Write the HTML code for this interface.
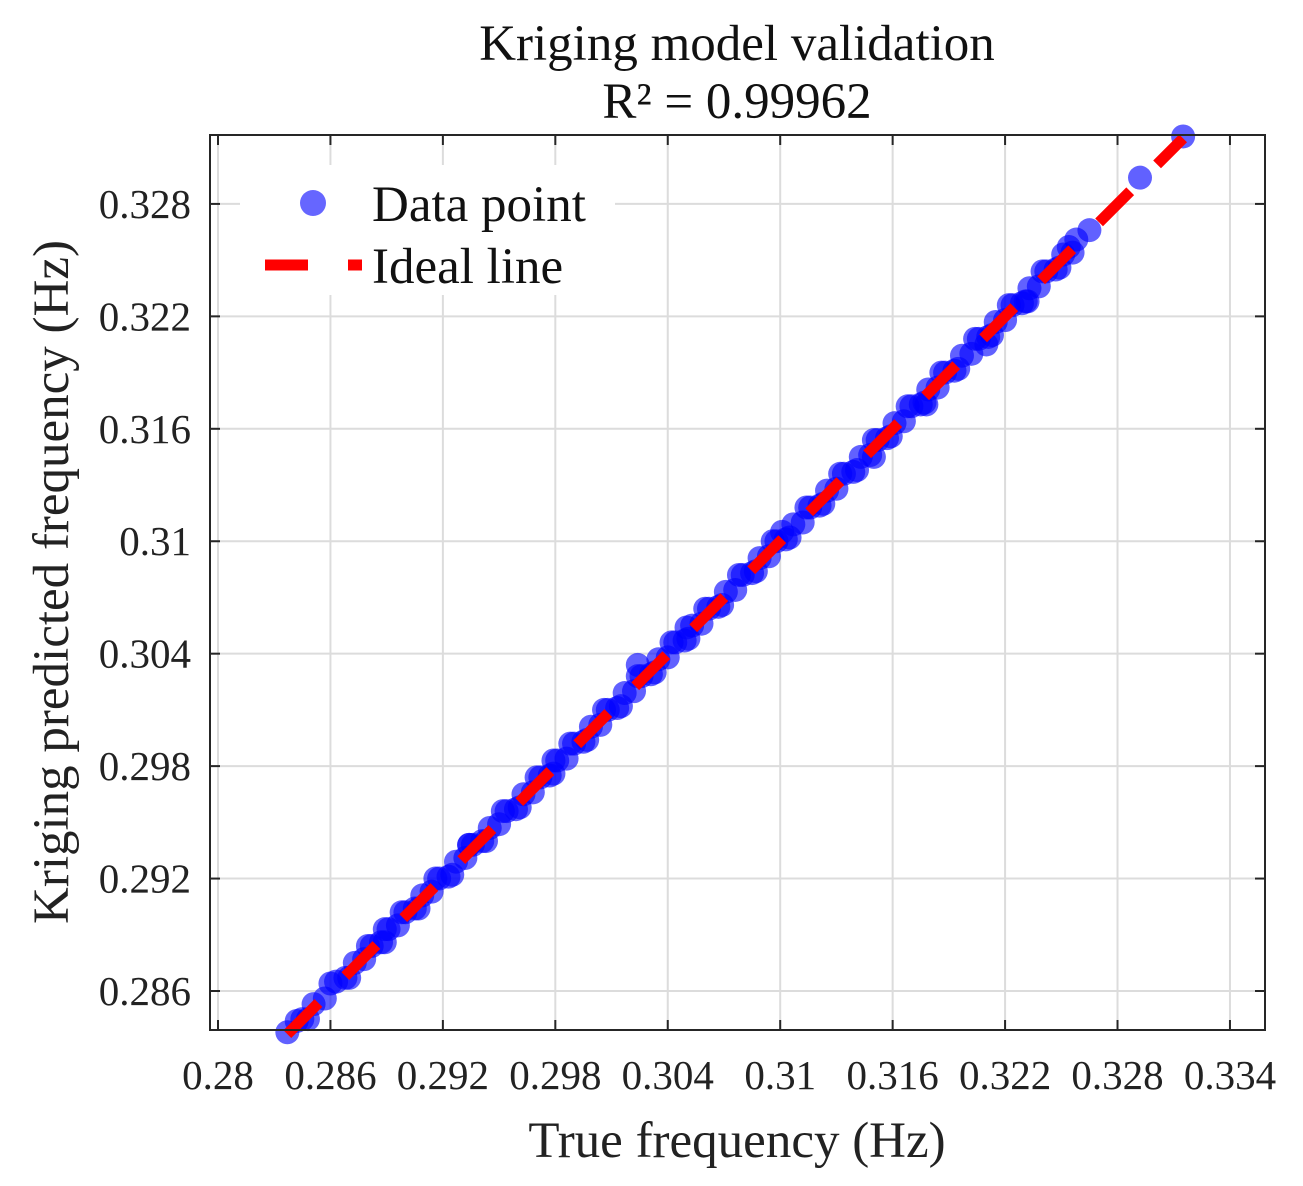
<!DOCTYPE html>
<html><head><meta charset="utf-8"><style>
html,body{margin:0;padding:0;background:#fff;}
svg{display:block;font-family:"Liberation Serif",serif;}
</style></head><body>
<svg id="chart" width="1303" height="1186" viewBox="0 0 1303 1186">
<g id="grid"></g>
<g id="series"></g>
<g id="axes"></g>
<text x="737" y="60" font-size="51" text-anchor="middle" fill="#111">Kriging model validation</text>
<text x="737" y="118" font-size="51" text-anchor="middle" fill="#111">R² = 0.99962</text>
<text x="737" y="1157" font-size="51" text-anchor="middle" fill="#222">True frequency (Hz)</text>
<text transform="translate(68,582) rotate(-90)" font-size="51" text-anchor="middle" fill="#222">Kriging predicted frequency (Hz)</text>
<g>
<rect x="240" y="165" width="375" height="130" fill="#fff"/>
<circle cx="313" cy="203" r="13" fill="#6666ff"/>
<text x="372" y="221" font-size="51" fill="#111">Data point</text>
<line x1="265" y1="265" x2="362" y2="265" stroke="#ff0000" stroke-width="11" stroke-dasharray="43 40"/>
<text x="372" y="283" font-size="51" fill="#111">Ideal line</text>
</g>
</svg>
<script>
const xTicks=[0.28,0.286,0.292,0.298,0.304,0.31,0.316,0.322,0.328,0.334];
const xTickLabels=["0.28","0.286","0.292","0.298","0.304","0.31","0.316","0.322","0.328","0.334"];
const yTicks=[0.286,0.292,0.298,0.304,0.31,0.316,0.322,0.328];
const yTickLabels=["0.286","0.292","0.298","0.304","0.31","0.316","0.322","0.328"];
const trueVals=[0.2837,0.2842,0.2845,0.2851,0.2857,0.2863,0.2868,0.2873,0.2878,0.2882,0.2887,0.2891,0.2896,0.2900,0.2905,0.2909,0.2914,0.2918,0.2923,0.2927,0.2932,0.2936,0.2941,0.2945,0.2950,0.2954,0.2959,0.2963,0.2968,0.2972,0.2977,0.2981,0.2986,0.2990,0.2995,0.2999,0.3004,0.3008,0.3013,0.3017,0.3022,0.3026,0.3031,0.3035,0.3040,0.3044,0.3049,0.3053,0.3058,0.3062,0.3067,0.3071,0.3076,0.3080,0.3085,0.3089,0.3094,0.3098,0.3103,0.3107,0.3112,0.3116,0.3121,0.3125,0.3130,0.3134,0.3139,0.3143,0.3148,0.3152,0.3157,0.3161,0.3166,0.3170,0.3175,0.3179,0.3184,0.3188,0.3193,0.3197,0.3202,0.3206,0.3211,0.3215,0.3220,0.3224,0.3229,0.3233,0.3238,0.3242,0.3247,0.3251,0.3256,0.3258,0.3265,0.3292,0.3315,0.3024,0.2889,0.2934,0.2979,0.3050,0.3101,0.3150,0.3178,0.3210,0.3232,
0.2848,0.2860,0.2870,0.2880,0.2889,0.2898,0.2907,0.2916,0.2925,0.2934,0.2943,0.2952,0.2961,0.2970,0.2979,0.2988,0.2997,0.3006,0.3015,0.3024,0.3033,0.3042,0.3051,0.3060,0.3069,0.3078,0.3087,0.3096,0.3105,0.3114,0.3123,0.3132,0.3141,0.3150,0.3159,0.3168,0.3177,0.3186,0.3195,0.3204,0.3213,0.3222,0.3231,0.3240,0.3249,0.3254];
const predVals=[0.2838,0.2844,0.2845,0.2853,0.2856,0.2865,0.2867,0.2875,0.2877,0.2884,0.2886,0.2893,0.2895,0.2902,0.2904,0.2911,0.2913,0.2920,0.2921,0.2929,0.2931,0.2938,0.2940,0.2947,0.2949,0.2956,0.2957,0.2965,0.2966,0.2974,0.2975,0.2983,0.2984,0.2992,0.2993,0.3001,0.3002,0.3010,0.3011,0.3019,0.3020,0.3028,0.3029,0.3037,0.3038,0.3046,0.3047,0.3055,0.3056,0.3064,0.3065,0.3073,0.3074,0.3082,0.3083,0.3091,0.3092,0.3100,0.3101,0.3109,0.3110,0.3118,0.3119,0.3127,0.3128,0.3136,0.3137,0.3145,0.3146,0.3154,0.3155,0.3163,0.3164,0.3172,0.3173,0.3181,0.3182,0.3190,0.3191,0.3199,0.3200,0.3208,0.3209,0.3217,0.3218,0.3226,0.3227,0.3235,0.3236,0.3244,0.3245,0.3253,0.3254,0.3261,0.3266,0.3294,0.3316,0.3034,0.2893,0.2938,0.2983,0.3054,0.3105,0.3145,0.3173,0.3205,0.3228,
0.2845,0.2864,0.2867,0.2884,0.2886,0.2902,0.2904,0.2920,0.2922,0.2938,0.2940,0.2956,0.2958,0.2974,0.2976,0.2992,0.2994,0.3010,0.3012,0.3028,0.3030,0.3046,0.3048,0.3064,0.3066,0.3082,0.3084,0.3100,0.3102,0.3118,0.3120,0.3136,0.3138,0.3154,0.3156,0.3172,0.3174,0.3190,0.3192,0.3208,0.3210,0.3226,0.3228,0.3244,0.3246,0.3257];
const idealLine=[0.2837,0.3315];
const X0=218,XV0=0.28,Y0=991,YV0=0.286,PX=18740;
function sx(v){return X0+(v-XV0)*PX;}
function sy(v){return Y0-(v-YV0)*PX;}
const NS="http://www.w3.org/2000/svg";
function mk(t,a,p){const e=document.createElementNS(NS,t);for(const k in a)e.setAttribute(k,a[k]);p.appendChild(e);return e;}
const L=210,R=1265,T=135,B=1030;
const grid=document.getElementById('grid'),axes=document.getElementById('axes'),series=document.getElementById('series');
xTicks.forEach((v,i)=>{const x=sx(v);
 const g=mk('line',{x1:x,y1:T,x2:x,y2:B,stroke:'#dcdcdc','stroke-width':2},grid);
 
 
 const t1=mk('line',{x1:x,y1:B,x2:x,y2:B-10,stroke:'#262626','stroke-width':2},axes);
 
 
 const t2=mk('line',{x1:x,y1:T,x2:x,y2:T+10,stroke:'#262626','stroke-width':2},axes);
 
 
 const tx=mk('text',{x:x,y:1089,'font-size':41,'text-anchor':'middle',fill:'#222'},axes);
 tx.textContent=xTickLabels[i];
 
 
});
yTicks.forEach((v,i)=>{const y=sy(v);
 const g=mk('line',{x1:L,y1:y,x2:R,y2:y,stroke:'#dcdcdc','stroke-width':2},grid);
 
 
 const t1=mk('line',{x1:L,y1:y,x2:L+10,y2:y,stroke:'#262626','stroke-width':2},axes);
 
 
 const t2=mk('line',{x1:R,y1:y,x2:R-10,y2:y,stroke:'#262626','stroke-width':2},axes);
 
 
 const tx=mk('text',{x:191,y:y+14,'font-size':41,'text-anchor':'end',fill:'#222'},axes);
 tx.textContent=yTickLabels[i];
 
 
});
const box=mk('rect',{x:L,y:T,width:R-L,height:B-T,fill:'none',stroke:'#262626','stroke-width':2},axes);


trueVals.forEach((v,i)=>{
 const c=mk('circle',{cx:sx(v),cy:sy(predVals[i]),r:12,fill:'#0000ff','fill-opacity':0.62},series);
 
 
});
const ln=mk('line',{x1:sx(idealLine[0]),y1:sy(idealLine[0]),x2:sx(idealLine[1]),y2:sy(idealLine[1]),stroke:'#ff0000','stroke-width':11,'stroke-dasharray':'44 38'},series);


</script>
</body></html>
